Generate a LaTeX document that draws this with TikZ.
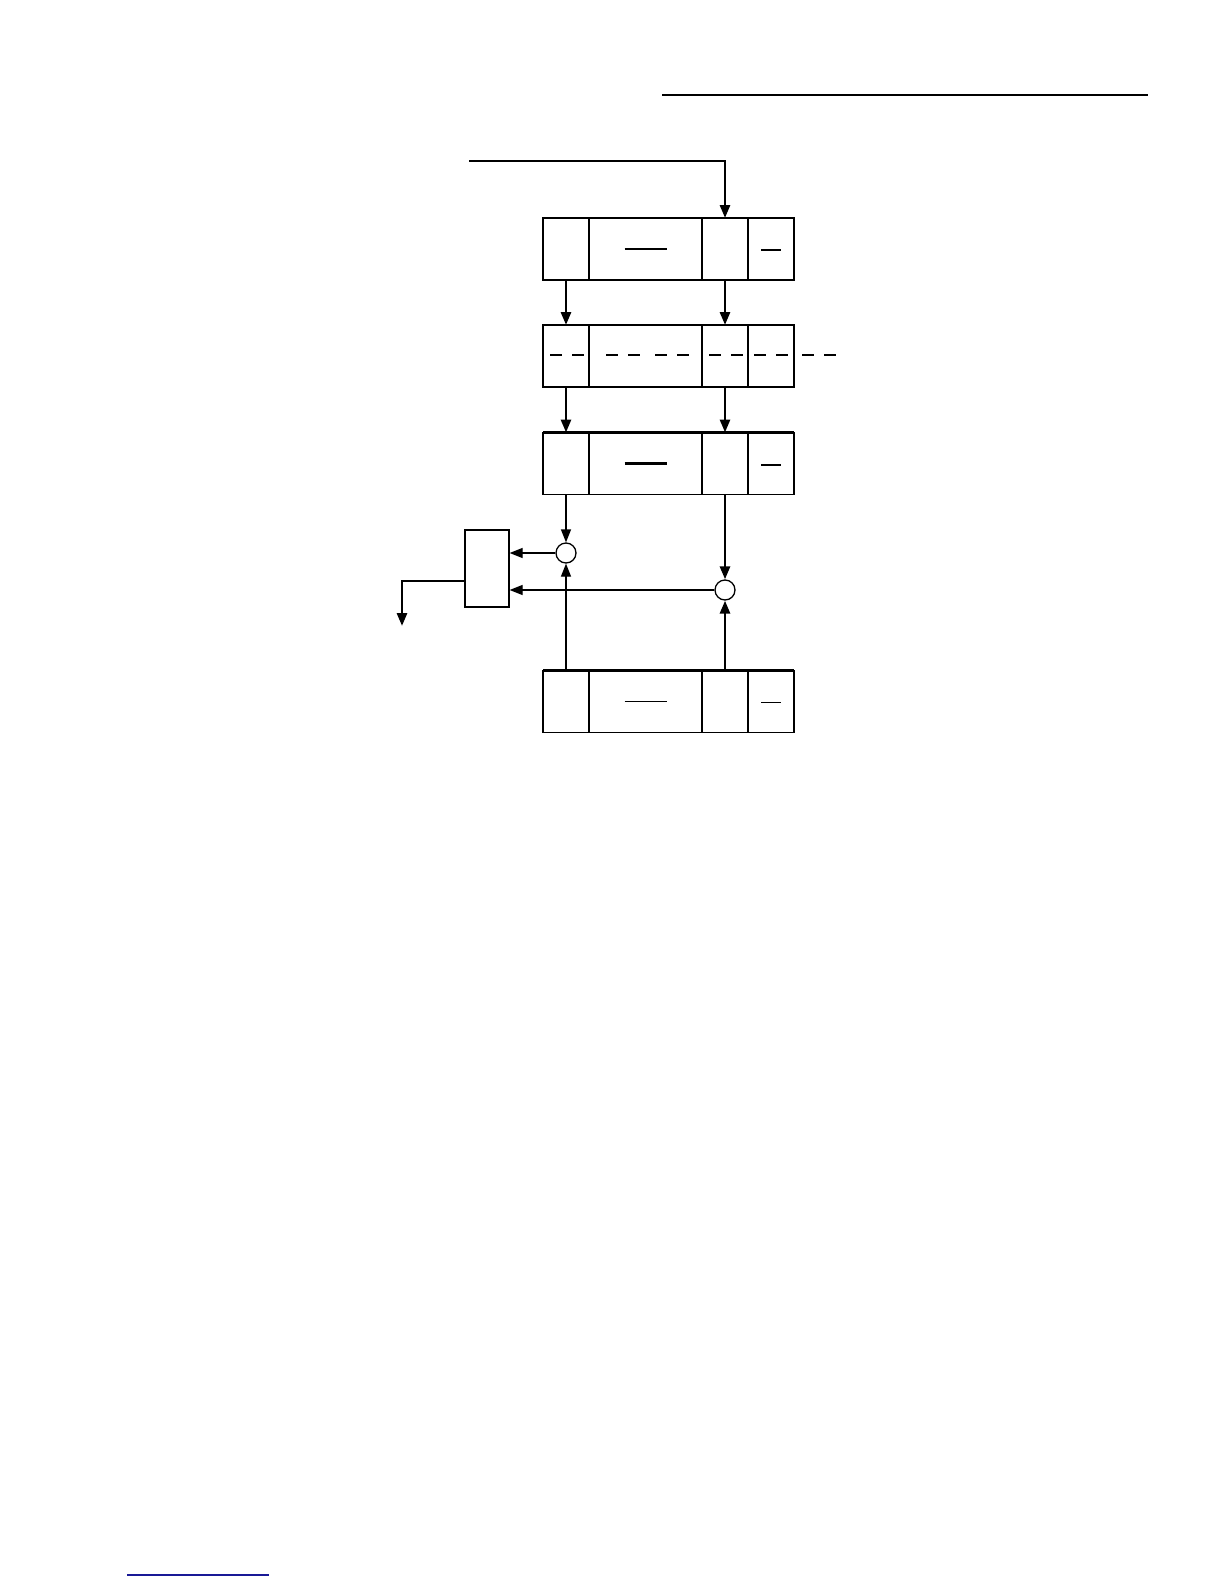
\documentclass[tikz,border=0pt]{standalone}
\usetikzlibrary{positioning,arrows.meta}

\definecolor{rulecol}{RGB}{25,25,150}

\tikzset{
  cell/.style={draw, line width=1.3pt, outer sep=0pt, minimum height=62pt, inner sep=0pt},
  narrow/.style={cell, minimum width=46pt},
  wide/.style={cell, minimum width=113pt},
  junction/.style={draw, circle, line width=1.3pt, minimum size=20pt, inner sep=0pt},
  unit/.style={draw, line width=1.3pt, minimum width=44pt, minimum height=77pt, inner sep=0pt},
  link/.style={line width=1.3pt, -{Triangle[length=13pt,width=10pt]}},
  flow/.style={line width=2.8pt, -{Triangle[length=13pt,width=10pt]}},
}

\begin{document}
\begin{tikzpicture}[x=1pt, y=-1pt]

  \useasboundingbox (0,0) rectangle (1224,1584);

  % Define nodes
  \foreach \r/\y in {1/249, 2/356, 3/463.5, 4/701.5} {
    \node[narrow]                   (r\r a) at (566,\y) {};
    \node[wide,   right=0pt of r\r a] (r\r b) {};
    \node[narrow, right=0pt of r\r b] (r\r c) {};
    \node[narrow, right=0pt of r\r c] (r\r d) {};
  }
  \node[junction] (j1) at (566,553) {};
  \node[junction] (j2) at (725,590) {};
  \node[unit]     (sum) at (487,568.5) {};
  \coordinate (in)  at (469,161);
  \coordinate (out) at (402,626);

  % Field marks
  \foreach \r in {1,4}
    \draw[line width=1.3pt] ([xshift=-21pt]r\r b.center) -- ([xshift=21pt]r\r b.center)
                            ([xshift=-10pt,yshift=-1pt]r\r d.center) -- ([xshift=10pt,yshift=-1pt]r\r d.center);
  \draw[line width=2.4pt] ([xshift=-21pt]r3b.center) -- ([xshift=21pt]r3b.center)
                          ([xshift=-10pt,yshift=-1.5pt]r3d.center) -- ([xshift=10pt,yshift=-1.5pt]r3d.center);
  \foreach \x in {550,606,655,709,754,802}
    \draw[line width=1.3pt, dash pattern=on 12pt off 10pt] (\x,355) -- ++(34,0);
  \draw[line width=2.4pt] (r3a.north west) -- (r3d.north east);
  \draw[line width=2.4pt] (r4a.north west) -- (r4d.north east);

  % Connect the nodes
  \draw[flow] (in) -| (r1c);
  \draw[flow] (r1a) -- (r2a);
  \draw[flow] (r1c) -- (r2c);
  \draw[flow] (r2a) -- (r3a);
  \draw[flow] (r2c) -- (r3c);
  \draw[link] (r3a) -- (j1);
  \draw[flow] (r3c) -- (j2);
  \draw[link] (r4a) -- (j1);
  \draw[flow] (r4c) -- (j2);
  \draw[link] (j1) -- (j1 -| sum.east);
  \draw[link] (j2) -- (j2 -| sum.east);
  \draw[flow] ([yshift=-12.5pt]sum.west) -| (out);

  % Rules
  \draw[line width=1.3pt] (662,95) -- (1148,95);
  \draw[rulecol, line width=1.3pt] (127,1575) -- (269,1575);

\end{tikzpicture}
\end{document}
